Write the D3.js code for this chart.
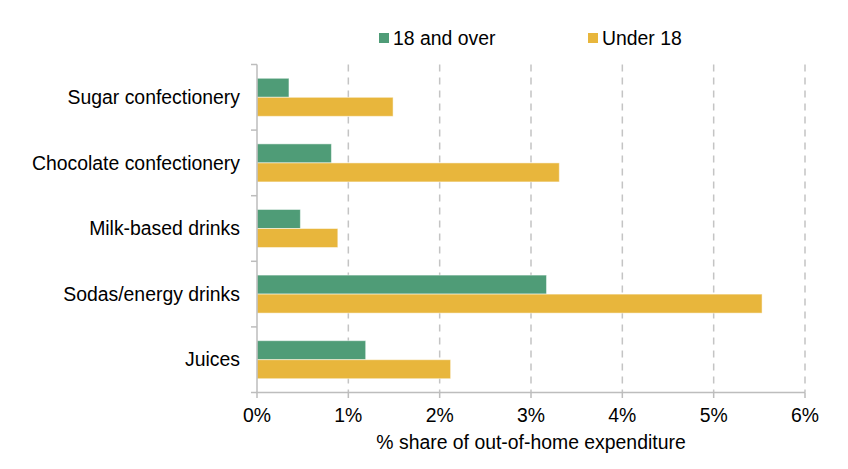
<!DOCTYPE html>
<head>
  <meta charset="utf-8">
  <script src="https://d3js.org/d3.v7.min.js"></script>
  <style>
    body { margin:0; background:#fff; }
    text { font-family: "Liberation Sans", Arial, sans-serif; fill:#000; }
  </style>
</head>
<body>
  <script>
    var categories = ["Sugar confectionery", "Chocolate confectionery", "Milk-based drinks", "Sodas/energy drinks", "Juices"];
    var seriesNames = ["18 and over", "Under 18"];
    var adults = [0.35, 0.815, 0.475, 3.17, 1.19];
    var under18 = [1.49, 3.31, 0.885, 5.53, 2.12];
    var xTicks = [0, 1, 2, 3, 4, 5, 6];
    var colors = ["#4f9c77", "#e8b63c"];

    var width = 848, height = 469;
    var fontSize = "19.4px";
    var svg = d3.select("body").append("svg")
      .attr("width", width)
      .attr("height", height);

    var x = d3.scaleLinear().domain([0, 6]).range([257, 805]);
    var y = d3.scaleBand().domain(categories).range([64.5, 392.5])
      .paddingInner(0.42).paddingOuter(0.21);
    var ySub = d3.scaleBand().domain(seriesNames).range([0, y.bandwidth()]);

    // gridlines
    svg.append("g").selectAll("line")
      .data(xTicks.slice(1))
      .enter().append("line")
      .attr("x1", function(d) { return x(d); })
      .attr("x2", function(d) { return x(d); })
      .attr("y1", 64.5).attr("y2", 392.5)
      .attr("stroke", "#c4c4c4")
      .attr("stroke-width", 1.5)
      .attr("stroke-dasharray", "7,6");

    // bars
    var rows = categories.map(function(c, i) { return { name: c, vals: [adults[i], under18[i]] }; });
    var groups = svg.append("g").selectAll("g")
      .data(rows)
      .enter().append("g")
      .attr("transform", function(d) { return "translate(0," + y(d.name) + ")"; });
    groups.selectAll("rect")
      .data(function(d) { return d.vals.map(function(v, j) { return { key: seriesNames[j], v: v, j: j }; }); })
      .enter().append("rect")
      .attr("x", x(0))
      .attr("y", function(d) { return ySub(d.key); })
      .attr("width", function(d) { return x(d.v) - x(0); })
      .attr("height", ySub.bandwidth())
      .attr("fill", function(d) { return colors[d.j]; })
      .attr("stroke", "#fff")
      .attr("stroke-opacity", 0.5)
      .attr("stroke-width", 1);

    // y axis
    var step = y.step();
    var bounds = categories.map(function(c) { return y(c) - step * 0.21; }).concat([392.5]);
    svg.append("line")
      .attr("x1", x(0)).attr("x2", x(0))
      .attr("y1", 64.5).attr("y2", 392.5)
      .attr("stroke", "#bdbdbd").attr("stroke-width", 1.5);
    svg.append("g").selectAll("line")
      .data(bounds)
      .enter().append("line")
      .attr("x1", x(0) - 6).attr("x2", x(0))
      .attr("y1", function(d) { return d; })
      .attr("y2", function(d) { return d; })
      .attr("stroke", "#bdbdbd").attr("stroke-width", 1.5);
    svg.append("g").selectAll("text")
      .data(categories)
      .enter().append("text")
      .attr("x", 240)
      .attr("y", function(d) { return y(d) + y.bandwidth() / 2; })
      .attr("dy", "0.35em")
      .attr("text-anchor", "end")
      .style("font-size", fontSize)
      .text(function(d) { return d; });

    // x axis
    svg.append("line")
      .attr("x1", x(0) - 1).attr("x2", x(6))
      .attr("y1", 392.5).attr("y2", 392.5)
      .attr("stroke", "#bdbdbd").attr("stroke-width", 1.5);
    svg.append("g").selectAll("line")
      .data(xTicks)
      .enter().append("line")
      .attr("x1", function(d) { return x(d); })
      .attr("x2", function(d) { return x(d); })
      .attr("y1", 392.5).attr("y2", 398)
      .attr("stroke", "#bdbdbd").attr("stroke-width", 1.5);
    svg.append("g").selectAll("text")
      .data(xTicks)
      .enter().append("text")
      .attr("x", function(d) { return x(d); })
      .attr("y", 422)
      .attr("text-anchor", "middle")
      .style("font-size", fontSize)
      .text(function(d) { return d + "%"; });
    svg.append("text")
      .attr("x", (x(0) + x(6)) / 2)
      .attr("y", 449)
      .attr("text-anchor", "middle")
      .style("font-size", fontSize)
      .text("% share of out-of-home expenditure");

    // legend
    var legendX = [379, 588];
    var legend = svg.append("g").selectAll("g")
      .data(seriesNames)
      .enter().append("g")
      .attr("transform", function(d, i) { return "translate(" + legendX[i] + ",33)"; });
    legend.append("rect")
      .attr("width", 10).attr("height", 10)
      .attr("fill", function(d, i) { return colors[i]; });
    legend.append("text")
      .attr("x", 14).attr("y", 5)
      .attr("dy", "0.35em")
      .style("font-size", fontSize)
      .text(function(d) { return d; });
  </script>
</body>
